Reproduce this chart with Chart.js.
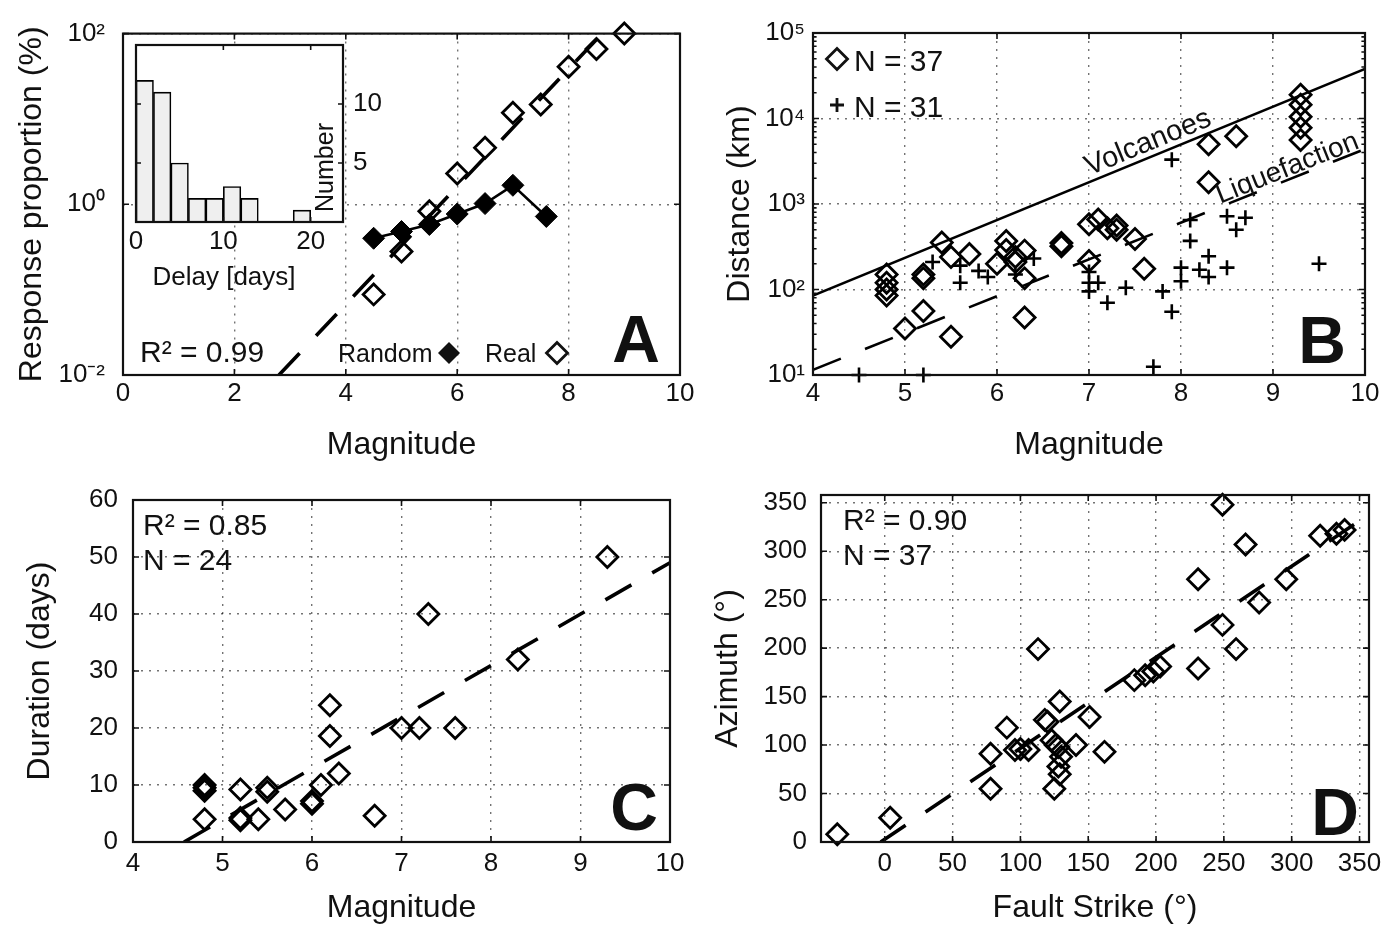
<!DOCTYPE html>
<html>
<head>
<meta charset="utf-8">
<script src="https://cdn.jsdelivr.net/npm/chart.js@4/dist/chart.umd.min.js"></script>
<style>
  html, body { margin: 0; padding: 0; background: #fff; }
  #fig { position: relative; width: 1389px; height: 929px; overflow: hidden; background: #fff; }
  #fig canvas { position: absolute; left: 0; top: 0; }
</style>
</head>
<body>
<div id="fig">
  <canvas id="pA" width="1389" height="929"></canvas>
  <canvas id="pInset" width="1389" height="929"></canvas>
  <canvas id="pB" width="1389" height="929"></canvas>
  <canvas id="pC" width="1389" height="929"></canvas>
  <canvas id="pD" width="1389" height="929"></canvas>
</div>
<script>
// ---------- Panel A: response proportion (%) vs magnitude ----------
const magReal = [4.5, 5.0, 5.5, 6.0, 6.5, 7.0, 7.5, 8.0, 8.5, 9.0];
const pctReal = [0.088, 0.28, 0.83, 2.3, 4.6, 11.8, 14.8, 41, 66, 100];
const magRandom = [4.5, 5.0, 5.5, 6.0, 6.5, 7.0, 7.6];
const pctRandom = [0.40, 0.48, 0.58, 0.77, 1.02, 1.67, 0.72];
const fitA_mag = [2.8, 8.6];
const fitA_pct = [0.01, 100];
const ticksA_x = [0, 2, 4, 6, 8, 10];
const ticksA_y = [0.01, 1, 100];
const labelsA_y = ['10\u207B\u00B2', '10\u2070', '10\u00B2'];

// ---------- Inset: delay histogram ----------
const delayBinStart = [0, 2, 4, 6, 8, 10, 12, 14, 16, 18];
const delayBinWidth = 2;
const delayCount = [12, 11, 5, 2, 2, 3, 2, 0, 0, 1];
const ticksInset_x = [0, 10, 20];
const ticksInset_y = [5, 10];

// ---------- Panel B: distance vs magnitude ----------
const magB_dia = [4.8, 4.8, 4.8, 4.8, 5.2, 5.2, 5.2, 5.0, 5.5, 5.4, 5.5, 5.7,
                  6.0, 6.1, 6.1, 6.2, 6.2, 6.3, 6.3, 6.3, 6.7, 6.7, 7.0, 7.0,
                  7.1, 7.2, 7.3, 7.3, 7.5, 7.6, 8.3, 8.3, 8.6, 9.3, 9.3, 9.3, 9.3, 9.3];
const distB_dia = [150, 120, 100, 85, 150, 135, 56, 35, 28, 355, 240, 260,
                   200, 370, 290, 240, 210, 285, 135, 47, 350, 320, 215, 580,
                   660, 520, 500, 560, 390, 175, 5000, 1800, 6200, 19000, 14500, 10500, 7800, 5600];
const magB_cross = [4.5, 5.2, 7.7, 5.6, 5.6, 5.9, 6.2, 5.3, 7.0, 7.0, 7.0, 7.1, 7.2, 7.4,
                    7.8, 7.9, 7.9, 8.0, 8.0, 8.1, 8.1, 8.3, 8.3, 8.5, 8.5, 8.6, 8.7, 9.5, 6.4, 5.8, 8.2];
const distB_cross = [10, 10, 12.5, 190, 120, 140, 150, 210, 160, 120, 95, 120, 70, 105,
                     95, 55, 3300, 180, 125, 650, 370, 245, 140, 180, 720, 500, 690, 200, 230, 165, 170];
const volcanoMag = [4, 10];
const volcanoDist = [85, 38000];
const liquefMag = [4, 10];
const liquefDist = [11.5, 4400];
const ticksB_x = [4, 5, 6, 7, 8, 9, 10];
const ticksB_y = [10, 100, 1000, 10000, 100000];
const labelsB_y = ['10\u00B9', '10\u00B2', '10\u00B3', '10\u2074', '10\u2075'];

// ---------- Panel C: duration vs magnitude ----------
const magC = [4.8, 4.8, 4.8, 4.8, 5.2, 5.2, 5.2, 5.4, 5.5, 5.5, 5.7, 6.0,
              6.0, 6.1, 6.3, 6.2, 6.2, 6.7, 7.0, 7.2, 7.3, 7.6, 8.3, 9.3];
const durC = [10, 9, 4, 9.5, 9.2, 3.8, 4.2, 4, 9.5, 8.8, 5.7, 6.7,
              7.2, 10, 12, 24, 18.6, 4.6, 20, 20, 40, 20, 32, 50];
const fitC_mag = [4.57, 10];
const fitC_dur = [0, 49];
const ticksC_x = [4, 5, 6, 7, 8, 9, 10];
const ticksC_y = [0, 10, 20, 30, 40, 50, 60];

// ---------- Panel D: azimuth vs fault strike ----------
const strikeD = [-35, 4, 78, 78, 90, 96, 106, 113, 118, 120, 125, 128, 129, 128, 129, 123,
                 141, 151, 162, 184, 192, 198, 203, 231, 231, 249, 249, 259, 266, 276, 296,
                 321, 333, 339, 130, 100, 126];
const azimuthD = [8, 25, 55, 91, 118, 95, 95, 199, 126, 124, 55, 78, 70, 98, 145, 105,
                  100, 129, 93, 167, 172, 176, 181, 179, 271, 348, 224, 199, 307, 247, 271,
                  316, 318, 322, 88, 96, 100];
const fitD_strike = [-3, 357];
const fitD_az = [0, 338];
const ticksD_x = [0, 50, 100, 150, 200, 250, 300, 350];
const ticksD_y = [0, 50, 100, 150, 200, 250, 300, 350];

// ---------- shared styling ----------
const W = 1389, H = 929;
const FONT = '"Liberation Sans", Arial, Helvetica, sans-serif';
const INK = '#111';
const GRID = 'rgba(0,0,0,0.55)';
Chart.defaults.font.family = FONT;
Chart.defaults.color = INK;
Chart.defaults.animation = false;
Chart.defaults.events = [];
Chart.defaults.plugins.legend.display = false;
Chart.defaults.plugins.tooltip.enabled = false;

const pts = (xs, ys) => xs.map((x, i) => ({ x, y: ys[i] }));

function axis(o) {
  const horizontal = o.pos === 'bottom';
  return {
    type: o.type || 'linear',
    position: o.pos,
    min: o.min, max: o.max,
    bounds: 'data',
    offset: false,
    afterBuildTicks: s => { s.ticks = o.ticks.map(v => ({ value: v })); },
    afterFit: s => { if (horizontal) s.height = o.size; else s.width = o.size; },
    grid: { display: o.grid !== false, color: GRID, lineWidth: 1.4, drawTicks: false },
    border: { display: false, dash: [2, 6] },
    ticks: {
      padding: o.pad, autoSkip: false, maxRotation: 0, minRotation: 0,
      font: { size: o.tickSize || 26 }, color: INK,
      callback: (v, i) => o.labels ? o.labels[i] : String(v)
    },
    title: o.title ? { display: true, text: o.title, font: { size: o.titleSize || 32 }, padding: 0, color: INK }
                   : { display: false }
  };
}

// places the chart area exactly on the given box
function layoutFor(box, yW, xH, yRight) {
  return {
    padding: yRight
      ? { left: box.l, top: box.t, right: W - box.r - yW, bottom: H - box.b - xH }
      : { left: box.l - yW, top: box.t, right: W - box.r, bottom: H - box.b - xH }
  };
}

function diamondPath(ctx, x, y, r) {
  ctx.beginPath();
  ctx.moveTo(x - r, y); ctx.lineTo(x, y - r); ctx.lineTo(x + r, y); ctx.lineTo(x, y + r);
  ctx.closePath();
}

// box around the plot area with inward ticks on all four sides
function frame(o) {
  o = o || {};
  return {
    id: 'frame',
    beforeDraw(chart) {
      if (!o.fill) return;
      const a = chart.chartArea, c = chart.ctx;
      c.save(); c.fillStyle = '#fff';
      c.fillRect(a.left, a.top, a.right - a.left, a.bottom - a.top);
      c.restore();
    },
    afterDraw(chart) {
      const { ctx, chartArea: a, scales } = chart;
      const xs = scales.x, ys = scales.y;
      const T = o.tick || 6;
      ctx.save();
      ctx.setLineDash([]);
      ctx.strokeStyle = INK;
      ctx.lineWidth = 1.6;
      ctx.beginPath();
      xs.ticks.forEach(t => {
        const p = xs.getPixelForValue(t.value);
        ctx.moveTo(p, a.bottom); ctx.lineTo(p, a.bottom - T);
        ctx.moveTo(p, a.top); ctx.lineTo(p, a.top + T);
      });
      ys.ticks.forEach(t => {
        const p = ys.getPixelForValue(t.value);
        ctx.moveTo(a.left, p); ctx.lineTo(a.left + T, p);
        ctx.moveTo(a.right, p); ctx.lineTo(a.right - T, p);
      });
      (o.minorY || []).forEach(v => {
        const p = ys.getPixelForValue(v);
        ctx.moveTo(a.left, p); ctx.lineTo(a.left + T * 0.6, p);
        ctx.moveTo(a.right, p); ctx.lineTo(a.right - T * 0.6, p);
      });
      ctx.stroke();
      ctx.lineWidth = 2.2;
      ctx.strokeRect(a.left, a.top, a.right - a.left, a.bottom - a.top);
      ctx.restore();
    }
  };
}

function notes(draw) {
  return {
    id: 'notes',
    afterDraw(chart) {
      const ctx = chart.ctx;
      ctx.save();
      ctx.fillStyle = INK; ctx.strokeStyle = INK;
      ctx.textBaseline = 'alphabetic';
      draw(chart, ctx, chart.chartArea);
      ctx.restore();
    }
  };
}

function panelLetter(ctx, a, letter, dx, dy) {
  ctx.font = 'bold 66px ' + FONT;
  ctx.textAlign = 'right';
  ctx.fillText(letter, a.right - dx, a.bottom - dy);
}

// text laid along a straight line given by two data points
function lineLabel(chart, ctx, xArr, yArr, atX, text, lift) {
  const xs = chart.scales.x, ys = chart.scales.y;
  const x1 = xs.getPixelForValue(xArr[0]), y1 = ys.getPixelForValue(yArr[0]);
  const x2 = xs.getPixelForValue(xArr[1]), y2 = ys.getPixelForValue(yArr[1]);
  const ang = Math.atan2(y2 - y1, x2 - x1);
  const px = xs.getPixelForValue(atX);
  const py = y1 + (px - x1) / (x2 - x1) * (y2 - y1);
  ctx.save();
  ctx.translate(px, py); ctx.rotate(ang);
  ctx.textAlign = 'center';
  ctx.fillText(text, 0, -lift);
  ctx.restore();
}

const openDiamond = { pointStyle: 'rectRot', pointRadius: 10.5, pointBorderWidth: 2.8,
                      pointBorderColor: '#000', pointBackgroundColor: 'rgba(0,0,0,0)', showLine: false, clip: false };
const fitLine = { showLine: true, borderColor: '#000', borderWidth: 3.6, borderDash: [30, 24],
                  pointRadius: 0, tension: 0 };

// ---------- Panel A ----------
const boxA = { l: 123, t: 30, r: 680, b: 375 };
new Chart(document.getElementById('pA'), {
  type: 'scatter',
  data: { datasets: [
    Object.assign({ data: pts(fitA_mag, fitA_pct) }, fitLine),
    { data: pts(magRandom, pctRandom), showLine: true, borderColor: '#000', borderWidth: 2.6,
      pointStyle: 'rectRot', pointRadius: 11, pointBorderWidth: 1,
      pointBackgroundColor: '#000', pointBorderColor: '#000', tension: 0, clip: false },
    Object.assign({ data: pts(magReal, pctReal) }, openDiamond)
  ]},
  options: {
    responsive: false,
    layout: layoutFor(boxA, 110, 89),
    scales: {
      x: axis({ pos: 'bottom', min: 0, max: 10, ticks: ticksA_x, size: 89, pad: 3, title: 'Magnitude' }),
      y: axis({ pos: 'left', type: 'logarithmic', min: 0.01, max: 100, ticks: ticksA_y, labels: labelsA_y,
                size: 110, pad: 18, title: 'Response proportion (%)' })
    }
  },
  plugins: [frame(), notes((chart, ctx, a) => {
    ctx.font = '30px ' + FONT;
    ctx.textAlign = 'left';
    ctx.fillText('R\u00B2 = 0.99', a.left + 17, a.bottom - 13);
    ctx.font = '25px ' + FONT;
    ctx.fillText('Random', a.left + 215, a.bottom - 13);
    diamondPath(ctx, a.left + 326, a.bottom - 22, 11); ctx.fill();
    ctx.fillText('Real', a.left + 362, a.bottom - 13);
    ctx.lineWidth = 2.8;
    diamondPath(ctx, a.left + 434, a.bottom - 22, 10.5); ctx.stroke();
    panelLetter(ctx, a, 'A', 20, 13);
  })]
});

// ---------- Inset histogram ----------
const boxIn = { l: 136, t: 45, r: 343, b: 222 };
new Chart(document.getElementById('pInset'), {
  type: 'bar',
  data: { datasets: [{
    data: delayBinStart.map((s, i) => ({ x: s + delayBinWidth / 2, y: delayCount[i] })),
    backgroundColor: '#efefef', borderColor: '#000', borderWidth: 1.6,
    barPercentage: 1, categoryPercentage: 1
  }]},
  options: {
    responsive: false,
    layout: layoutFor(boxIn, 50, 70, true),
    scales: {
      x: axis({ pos: 'bottom', min: 0, max: 23.7, ticks: ticksInset_x, size: 70, pad: 4, grid: false }),
      y: axis({ pos: 'right', min: 0, max: 15, ticks: ticksInset_y, size: 50, pad: 10, grid: false })
    }
  },
  plugins: [frame({ fill: true, tick: 5 }), notes((chart, ctx, a) => {
    ctx.font = '26px ' + FONT;
    ctx.textAlign = 'center';
    ctx.fillText('Delay [days]', a.left + 88, a.bottom + 63);
    ctx.save();
    ctx.translate(a.right - 17, (a.top + a.bottom) / 2 + 34);
    ctx.rotate(-Math.PI / 2);
    ctx.font = '25px ' + FONT;
    ctx.textAlign = 'center';
    ctx.textBaseline = 'middle';
    ctx.fillText('Number', 0, 0);
    ctx.restore();
  })]
});

// ---------- Panel B ----------
const boxB = { l: 813, t: 33, r: 1365, b: 375 };
const minorB = [];
for (let d = 10; d < 100000; d *= 10) for (let k = 2; k <= 9; k++) minorB.push(d * k);
new Chart(document.getElementById('pB'), {
  type: 'scatter',
  data: { datasets: [
    { data: pts(volcanoMag, volcanoDist), showLine: true, borderColor: '#000', borderWidth: 2.6,
      pointRadius: 0, tension: 0 },
    Object.assign({ data: pts(liquefMag, liquefDist) }, fitLine, { borderWidth: 2.6, borderDash: [30, 26] }),
    Object.assign({ data: pts(magB_dia, distB_dia) }, openDiamond, { pointRadius: 10.5 }),
    { data: pts(magB_cross, distB_cross), pointStyle: 'cross', pointRadius: 7.5, pointBorderWidth: 2.6,
      pointBorderColor: '#000', showLine: false, clip: false }
  ]},
  options: {
    responsive: false,
    layout: layoutFor(boxB, 92, 89),
    scales: {
      x: axis({ pos: 'bottom', min: 4, max: 10, ticks: ticksB_x, size: 89, pad: 3, title: 'Magnitude' }),
      y: axis({ pos: 'left', type: 'logarithmic', min: 10, max: 100000, ticks: ticksB_y, labels: labelsB_y,
                size: 92, pad: 8, title: 'Distance (km)' })
    }
  },
  plugins: [frame({ minorY: minorB }), notes((chart, ctx, a) => {
    ctx.lineWidth = 2.8;
    diamondPath(ctx, a.left + 24, a.top + 26, 10.5); ctx.stroke();
    ctx.beginPath();
    ctx.moveTo(a.left + 17, a.top + 72); ctx.lineTo(a.left + 31, a.top + 72);
    ctx.moveTo(a.left + 24, a.top + 65); ctx.lineTo(a.left + 24, a.top + 79);
    ctx.stroke();
    ctx.font = '30px ' + FONT;
    ctx.textAlign = 'left';
    ctx.fillText('N = 37', a.left + 41, a.top + 38);
    ctx.fillText('N = 31', a.left + 41, a.top + 84);
    ctx.font = '29px ' + FONT;
    lineLabel(chart, ctx, volcanoMag, volcanoDist, 7.7, 'Volcanoes', 6);
    ctx.font = '28px ' + FONT;
    lineLabel(chart, ctx, liquefMag, liquefDist, 9.2, 'Liquefaction', 3);
    panelLetter(ctx, a, 'B', 19, 12);
  })]
});

// ---------- Panel C ----------
const boxC = { l: 133, t: 500, r: 670, b: 842 };
new Chart(document.getElementById('pC'), {
  type: 'scatter',
  data: { datasets: [
    Object.assign({ data: pts(fitC_mag, fitC_dur) }, fitLine),
    Object.assign({ data: pts(magC, durC) }, openDiamond)
  ]},
  options: {
    responsive: false,
    layout: layoutFor(boxC, 112, 85),
    scales: {
      x: axis({ pos: 'bottom', min: 4, max: 10, ticks: ticksC_x, size: 85, pad: 6, title: 'Magnitude' }),
      y: axis({ pos: 'left', min: 0, max: 60, ticks: ticksC_y, size: 112, pad: 15, title: 'Duration (days)' })
    }
  },
  plugins: [frame(), notes((chart, ctx, a) => {
    ctx.font = '30px ' + FONT;
    ctx.textAlign = 'left';
    ctx.fillText('R\u00B2 = 0.85', a.left + 10, a.top + 35);
    ctx.fillText('N = 24', a.left + 10, a.top + 70);
    panelLetter(ctx, a, 'C', 12, 12);
  })]
});

// ---------- Panel D ----------
const boxD = { l: 821, t: 495, r: 1369, b: 842 };
new Chart(document.getElementById('pD'), {
  type: 'scatter',
  data: { datasets: [
    Object.assign({ data: pts(fitD_strike, fitD_az) }, fitLine),
    Object.assign({ data: pts(strikeD, azimuthD) }, openDiamond)
  ]},
  options: {
    responsive: false,
    layout: layoutFor(boxD, 112, 85),
    scales: {
      x: axis({ pos: 'bottom', min: -47, max: 357, ticks: ticksD_x, size: 85, pad: 6, title: 'Fault Strike (\u00B0)' }),
      y: axis({ pos: 'left', min: 0, max: 358, ticks: ticksD_y, size: 112, pad: 14, title: 'Azimuth (\u00B0)' })
    }
  },
  plugins: [frame(), notes((chart, ctx, a) => {
    ctx.font = '30px ' + FONT;
    ctx.textAlign = 'left';
    ctx.fillText('R\u00B2 = 0.90', a.left + 22, a.top + 35);
    ctx.fillText('N = 37', a.left + 22, a.top + 70);
    panelLetter(ctx, a, 'D', 10, 7);
  })]
});
</script>
</body>
</html>
